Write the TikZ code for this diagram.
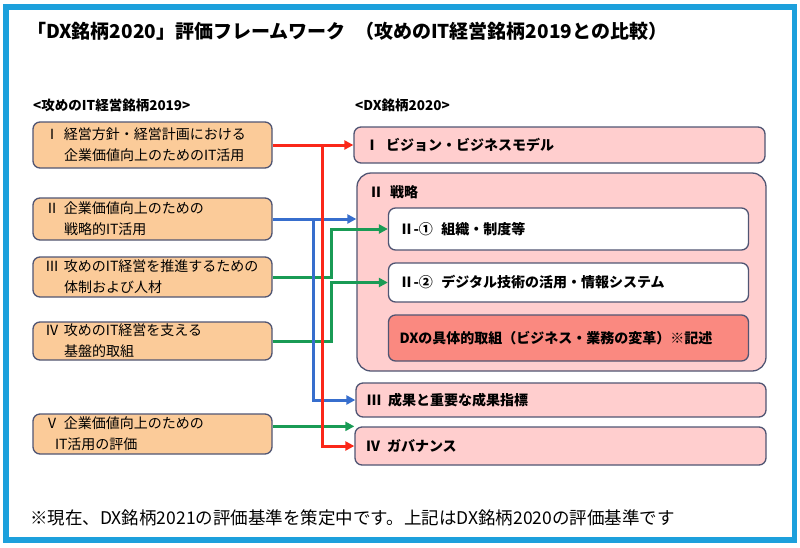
\documentclass[tikz,border=0pt]{standalone}
\usepackage{fontspec}
\setmainfont{Noto Sans CJK JP}
\usepackage{xcolor}
\usetikzlibrary{arrows.meta,positioning}

\definecolor{framecol}{RGB}{28,160,220}
\definecolor{peach}{RGB}{251,203,153}
\definecolor{rose}{RGB}{255,206,206}
\definecolor{salmon}{RGB}{250,137,128}
\definecolor{edgecol}{RGB}{80,85,115}
\definecolor{redline}{RGB}{250,40,25}
\definecolor{blueline}{RGB}{55,110,205}
\definecolor{greenline}{RGB}{25,155,85}

\newcommand{\numcol}[1]{\makebox[19pt][l]{#1}}

\begin{document}
\begin{tikzpicture}[x=1pt, y=-1pt,
      leftbox/.style={
         draw=edgecol,
         fill=peach,
         rounded corners=7pt,
         line width=1.3pt,
         inner xsep=12pt, inner ysep=0pt,
         text width=215pt, align=left,
         font=\fontsize{14}{21}\selectfont},
      rightbox/.style={
         draw=edgecol,
         fill=rose,
         rounded corners=7pt,
         line width=1.3pt,
         inner xsep=11pt, inner ysep=0pt,
         text width=389pt, align=left,
         font=\bfseries\fontsize{14}{17}\selectfont},
      subbox/.style={rightbox, fill=white, text width=338pt},
      plain/.style={anchor=west, inner sep=0pt},
      myarrow/.style={line width=3pt, -{Triangle[length=9pt,width=9pt]}}
      ]
\useasboundingbox (0,0) rectangle (800,547);
\draw[framecol, line width=5.5pt] (6,7) rectangle (794.5,540);

\node[plain, font=\bfseries\fontsize{19}{22}\selectfont] (title) at (27,31)
   {「DX銘柄2020」評価フレームワーク\hspace{0.5em}（攻めのIT経営銘柄2019との比較）};
\node[plain, font=\bfseries\fontsize{13.5}{15}\selectfont] (lhead) at (33,105) {<攻めのIT経営銘柄2019>};
\node[plain, font=\bfseries\fontsize{13.5}{15}\selectfont] (rhead) at (355,105) {<DX銘柄2020>};

% 攻めのIT経営銘柄2019
\node[leftbox, minimum height=46pt] (L1) at (152.5,145) {\numcol{Ⅰ}経営方針・経営計画における\\\numcol{}企業価値向上のためのIT活用};
\node[leftbox, minimum height=42pt] (L2) at (152.5,219) {\numcol{Ⅱ}企業価値向上のための\\\numcol{}戦略的IT活用};
\node[leftbox, minimum height=40pt] (L3) at (152.5,277) {\numcol{Ⅲ}攻めのIT経営を推進するための\\\numcol{}体制および人材};
\node[leftbox, minimum height=38pt] (L4) at (152.5,341) {\numcol{Ⅳ}攻めのIT経営を支える\\\numcol{}基盤的取組};
\node[leftbox, minimum height=40pt] (L5) at (152.5,434) {\numcol{Ⅴ}企業価値向上のための\\\hspace*{10pt}IT活用の評価};

% DX銘柄2020
\node[rightbox, minimum height=36pt] (R1) at (559.5,145) {Ⅰ\hspace{0.5em}ビジョン・ビジネスモデル};
\node[rightbox, minimum height=198pt, text width=387pt, rounded corners=14pt] (R2) at (561.5,272) {};
\node[plain, font=\bfseries\fontsize{14}{17}\selectfont] (R2t) at (369,192) {Ⅱ\hspace{0.5em}戦略};
\node[subbox, minimum height=42pt] (R2a) at (568.5,229) {Ⅱ-①\hspace{0.6em}組織・制度等};
\node[subbox, minimum height=39pt] (R2b) at (568.5,282.5) {Ⅱ-②\hspace{0.6em}デジタル技術の活用・情報システム};
\node[subbox, minimum height=46pt, fill=salmon] (R2c) at (568.5,338) {DXの具体的取組（ビジネス・業務の変革）※記述};
\node[rightbox, minimum height=34pt, text width=388pt] (R3) at (561,400) {Ⅲ\hspace{0.5em}成果と重要な成果指標};
\node[rightbox, minimum height=38pt] (R4) at (560.5,446) {Ⅳ\hspace{0.5em}ガバナンス};

\coordinate (bsplit) at (313,0);
\coordinate (rsplit) at (322,0);
\coordinate (gbus) at (331,0);

\draw[myarrow, greenline] (L3.east) -| (gbus |- R2a.west) -- (R2a.west);
\draw[myarrow, greenline] (L4.east) -| (gbus |- R2b.west) -- (R2b.west);
\draw[myarrow, greenline] (L5.east |- R4.north) -- (R4.north west);
\draw[myarrow, blueline] (L2.east) -- (L2.east -| R2.west);
\draw[myarrow, blueline] (bsplit |- L2.east) |- (R3.west);
\draw[myarrow, redline] (L1.east) -- (R1.west);
\draw[myarrow, redline] (rsplit |- L1.east) |- (R4.west);

\node[plain, font=\fontsize{17.5}{20}\selectfont] (note) at (30,518)
   {※現在、DX銘柄2021の評価基準を策定中です。上記はDX銘柄2020の評価基準です};
\end{tikzpicture}
\end{document}
